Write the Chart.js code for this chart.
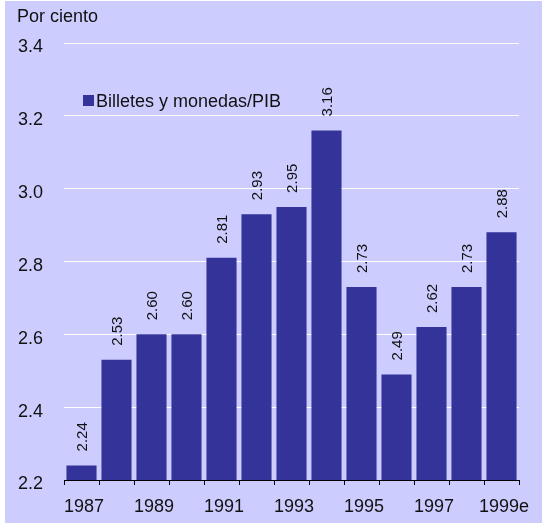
<!DOCTYPE html>
<html>
<head>
<meta charset="utf-8">
<script src="https://cdn.jsdelivr.net/npm/chart.js@4"></script>
<style>
    html, body { margin: 0; padding: 0; background: #ccccff; }
    #wrap { width: 542px; height: 523px; }
</style>
</head>
<body>
<div id="wrap"><canvas id="chart" width="542" height="523"></canvas></div>
<script>
// Billetes y monedas / PIB, 1987-1999e
const years = ['1987', '1988', '1989', '1990', '1991', '1992', '1993',
               '1994', '1995', '1996', '1997', '1998', '1999e'];
const ratio = [2.24, 2.53, 2.60, 2.60, 2.81, 2.93, 2.95, 3.16, 2.73, 2.49, 2.62, 2.73, 2.88];
const yTicks = [2.2, 2.4, 2.6, 2.8, 3.0, 3.2, 3.4];

const FONT = '"Liberation Sans", Arial, sans-serif';
const BAR = '#333399';
const BG = '#ccccff';
const TEXT = '#111';

// value labels, y tick labels, legend and unit title
const extras = {
    id: 'extras',
    beforeDraw(chart) {
        const ctx = chart.ctx;
        ctx.save();
        ctx.fillStyle = BG;
        ctx.fillRect(0, 0, chart.width, chart.height);
        // thin white frame on the left/top edge of the original picture
        ctx.fillStyle = '#ffffff';
        ctx.fillRect(0, 0, 5, chart.height);
        ctx.fillRect(0, 0, chart.width, 1);
        ctx.restore();
    },
    afterDatasetsDraw(chart) {
        const ctx = chart.ctx;
        const meta = chart.getDatasetMeta(0);
        ctx.save();
        ctx.fillStyle = TEXT;
        ctx.font = '15px ' + FONT;
        ctx.textAlign = 'left';
        ctx.textBaseline = 'middle';
        meta.data.forEach((bar, i) => {
            ctx.save();
            ctx.translate(bar.x + 1, bar.y - 14);
            ctx.rotate(-Math.PI / 2);
            ctx.fillText(ratio[i].toFixed(2), 0, 0);
            ctx.restore();
        });

        // y tick labels (sit a little under their grid lines)
        const y = chart.scales.y;
        ctx.font = '18px ' + FONT;
        yTicks.forEach(v => {
            ctx.fillText(v.toFixed(1), 18, y.getPixelForValue(v) + 4.5);
        });

        // legend
        ctx.fillStyle = BAR;
        ctx.fillRect(83, 95, 11, 11);
        ctx.fillStyle = TEXT;
        ctx.fillText('Billetes y monedas/PIB', 96, 102);

        // unit
        ctx.fillText('Por ciento', 17, 17);
        ctx.restore();
    }
};

const ctx = document.getElementById('chart').getContext('2d');
new Chart(ctx, {
    type: 'bar',
    data: {
        labels: years,
        datasets: [{
            data: ratio,
            backgroundColor: BAR,
            barPercentage: 0.86,
            categoryPercentage: 1.0
        }]
    },
    options: {
        responsive: false,
        animation: false,
        layout: { padding: { left: 18, right: 23, top: 43, bottom: 0 } },
        plugins: {
            legend: { display: false },
            tooltip: { enabled: false }
        },
        scales: {
            x: {
                offset: true,
                grid: {
                    offset: true,
                    drawOnChartArea: false,
                    drawTicks: true,
                    tickLength: 5,
                    color: '#000'
                },
                border: { display: true, color: '#000', width: 1 },
                ticks: {
                    autoSkip: false,
                    maxRotation: 0,
                    padding: 11,
                    color: TEXT,
                    font: { family: FONT, size: 18 },
                    // leading space nudges the label a bit right, as in the original
                    callback: (v, i) => (i % 2 === 0 ? ' ' + years[i] : '')
                },
                afterFit: scale => { scale.height = 43; }
            },
            y: {
                min: 2.2,
                max: 3.4,
                afterBuildTicks: scale => {
                    scale.ticks = yTicks.map(v => ({ value: v }));
                },
                grid: {
                    color: '#ffffff',
                    lineWidth: 1,
                    drawTicks: false
                },
                border: { display: false },
                ticks: { display: false },
                afterFit: scale => { scale.width = 46; }
            }
        }
    },
    plugins: [extras]
});
</script>
</body>
</html>
